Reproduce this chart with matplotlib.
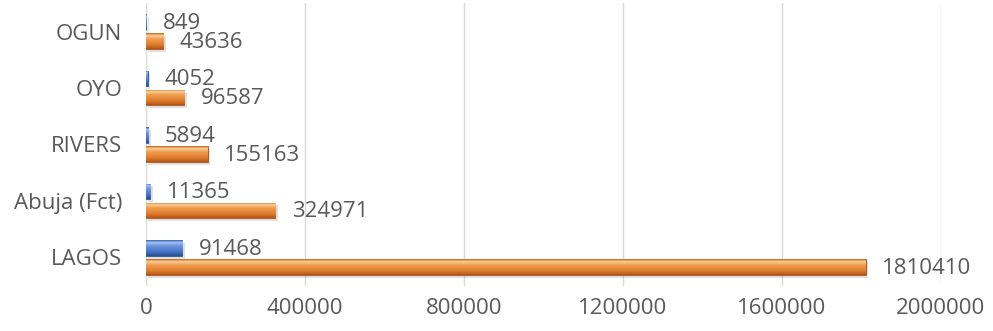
import numpy as np
import matplotlib
matplotlib.use("Agg")
import matplotlib.pyplot as plt
from matplotlib.colors import LinearSegmentedColormap

plt.rcParams['font.family'] = ['Open Sans', 'DejaVu Sans']

# states, bottom to top
states = ['LAGOS', 'Abuja (Fct)', 'RIVERS', 'OYO', 'OGUN']
small_vals = [91468, 11365, 5894, 4052, 849]
large_vals = [1810410, 324971, 155163, 96587, 43636]
xticks = [0, 400000, 800000, 1200000, 1600000, 2000000]

text_col = '#595959'

fig = plt.figure(figsize=(9.93, 3.31), dpi=100)
ax = fig.add_axes([0.147, 0.137, 0.8006, 0.853])

y = np.arange(len(states))
h = 0.28
off = 0.168

blue_bars = ax.barh(y + off, small_vals, height=h, color='#4472C4',
                    edgecolor='#2F5597', linewidth=0.6, zorder=3)
orange_bars = ax.barh(y - off, large_vals, height=h, color='#E07A2C',
                      edgecolor='#A9541A', linewidth=0.6, zorder=3)

# bevelled look: vertical gradient inside each bar, clipped to the patch
blue_cmap = LinearSegmentedColormap.from_list(
    'b', [(0, '#3A62AE'), (0.15, '#A5C2F2'), (0.35, '#6E96DC'),
          (0.75, '#4472C4'), (1, '#2B4F90')])
orange_cmap = LinearSegmentedColormap.from_list(
    'o', [(0, '#C4651F'), (0.15, '#FAD094'), (0.35, '#F0A055'),
          (0.75, '#E07A2C'), (1, '#B0561A')])
grad = np.linspace(0, 1, 64).reshape(-1, 1)

for bars, cmap in [(blue_bars, blue_cmap), (orange_bars, orange_cmap)]:
    for p in bars:
        x0, y0 = p.get_x(), p.get_y()
        w, hh = p.get_width(), p.get_height()
        # soft shadow under the bar
        ax.add_patch(plt.Rectangle((x0 + 6000, y0 - 0.05), w, hh,
                                   color='#000000', alpha=0.12,
                                   linewidth=0, zorder=2))
        im = ax.imshow(grad, cmap=cmap, aspect='auto',
                       extent=(x0, x0 + w, y0, y0 + hh),
                       origin='upper', zorder=4)
        im.set_clip_path(p)

# value labels
for bars, vals in [(blue_bars, small_vals), (orange_bars, large_vals)]:
    for p, v in zip(bars, vals):
        ax.annotate(str(v), (p.get_width(), p.get_y() + p.get_height() / 2),
                    xytext=(12, -1), textcoords='offset points',
                    va='center', ha='left', fontsize=16, color=text_col,
                    zorder=6)

ax.set_xlim(0, 2000000)
ax.set_ylim(-0.5, len(states) - 0.5)
ax.set_xticks(xticks)
ax.set_xticklabels([str(t) for t in xticks])
ax.set_yticks(y)
ax.set_yticklabels(states)
ax.tick_params(axis='both', length=0, labelsize=16, labelcolor=text_col)
ax.tick_params(axis='y', pad=17)
ax.tick_params(axis='x', pad=9)

for s in ax.spines.values():
    s.set_visible(False)
ax.xaxis.grid(True, color='#D9D9D9', linewidth=1)
ax.set_axisbelow(True)

fig.savefig('out.png', dpi=100)
